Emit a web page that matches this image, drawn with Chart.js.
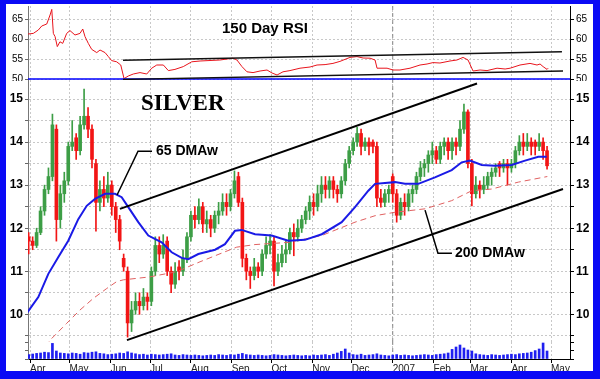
<!DOCTYPE html>
<html><head><meta charset="utf-8">
<script src="https://cdn.jsdelivr.net/npm/chart.js@4.4.0/dist/chart.umd.min.js"></script>
<style>
html,body{margin:0;padding:0;background:#fff;overflow:hidden;}
#frame{position:absolute;left:0;top:0;width:600px;height:379px;box-sizing:border-box;border-style:solid;border-color:#0a0af5;border-width:4px 7px 8px 6px;background:#fff;}
canvas{position:absolute;left:0;}
.lbl{position:absolute;white-space:nowrap;line-height:1;font-family:"Liberation Sans",Arial,sans-serif;font-weight:bold;color:#000;}
</style></head><body>
<div id="frame"></div>
<canvas id="rsiChart" width="600" height="81" style="top:0;width:600px;height:81px"></canvas>
<canvas id="priceChart" width="600" height="262" style="top:80px;width:600px;height:262px"></canvas>
<canvas id="volChart" width="600" height="37" style="top:342px;width:600px;height:37px"></canvas>
<div class="lbl" style="left:222px;top:19.6px;font-size:15px;">150 Day RSI</div>
<div class="lbl" style="left:141px;top:91.4px;font-size:23px;font-family:'Liberation Serif','Times New Roman',serif;">SILVER</div>
<div class="lbl" style="left:156px;top:143px;font-size:14px;">65 DMAw</div>
<div class="lbl" style="left:455px;top:245.4px;font-size:14px;">200 DMAw</div>
<script>
// ---- x axis: days since 1 Apr 2006 ----
const X_MIN = -1.52, X_MAX = 409.4;
const monthDays = [0,30,61,91,122,153,183,214,244,275,306,334,365,395];
const monthLabels = ['Apr','May','Jun','Jul','Aug','Sep','Oct','Nov','Dec','2007','Feb','Mar','Apr','May'];
const JAN_2007 = 275;

// ---- price bars (one every 3 days) ----
const barStartDay = -1, barStepDays = 3;
const open = [
11.8,11.7,11.6,11.9,12.4,12.9,13.2,14.3,12.2,12.8,
13.1,13.9,14.1,13.8,14.4,14.6,14.3,13.5,12.6,12.9,
12.7,13.0,12.5,12.2,11.3,11.0,9.8,10.1,10.3,10.2,
10.4,10.3,11.0,11.6,11.4,11.7,11.0,10.7,11.1,11.0,
11.3,11.8,12.3,12.2,12.5,12.1,12.2,12.0,12.3,12.4,
12.6,12.5,12.8,13.2,12.6,11.3,11.0,10.9,11.1,11.0,
11.4,11.6,11.7,11.0,11.2,11.4,11.5,11.9,11.8,12.0,
12.2,12.4,12.6,12.5,12.8,13.0,12.9,13.1,12.9,12.8,
13.1,13.5,13.8,14.0,14.2,13.9,14.0,14.0,13.9,12.7,
12.6,12.8,13.2,12.8,12.3,12.6,12.5,12.8,12.9,13.2,
13.4,13.5,13.7,13.8,13.6,13.9,14.0,13.8,14.0,13.9,
14.3,14.7,13.5,12.8,13.0,12.9,13.0,13.2,13.3,13.5,
13.4,13.5,13.4,13.5,13.8,14.0,13.9,14.0,14.0,13.9,
14.0,13.8];
const high = [
11.9,11.8,12.0,12.5,13.0,13.4,14.65,14.4,13.0,13.3,
14.0,14.5,14.2,14.6,15.23,14.8,14.4,13.6,13.1,13.2,
13.3,13.1,12.6,12.3,11.4,11.1,10.3,10.5,10.5,10.6,
10.5,11.1,11.8,11.8,11.85,11.8,11.1,11.2,11.25,11.5,
11.9,12.4,12.5,12.68,12.6,12.4,12.3,12.4,12.6,12.8,
12.8,12.9,13.33,13.3,12.7,11.4,11.1,11.3,11.2,11.5,
11.8,11.85,11.8,11.4,11.6,11.7,12.0,12.1,12.2,12.3,
12.5,12.75,12.8,13.0,13.2,13.2,13.2,13.2,13.0,13.2,
13.6,13.9,14.1,14.34,14.3,14.1,14.1,14.05,14.0,12.9,
12.9,13.0,13.26,12.9,12.7,12.8,12.9,13.0,13.3,13.55,
13.6,13.8,14.0,13.9,14.0,14.1,14.1,14.1,14.1,14.5,
14.88,14.75,13.6,13.2,13.1,13.2,13.3,13.4,13.5,13.55,
13.6,13.6,13.6,13.9,14.15,14.2,14.2,14.1,14.05,14.2,
14.1,13.9];
const low = [
11.4,11.5,11.55,11.85,12.3,12.8,13.1,11.7,12.0,12.6,
13.0,13.8,13.6,13.7,14.3,14.1,13.4,11.93,12.4,12.5,
12.6,12.3,11.9,11.5,11.0,9.47,9.6,10.0,10.0,10.1,
10.1,10.2,10.9,11.2,11.3,10.9,10.5,10.6,10.8,10.9,
11.2,11.7,12.0,12.1,11.9,11.9,11.8,11.9,12.1,12.3,
12.3,12.4,12.7,12.5,11.1,10.8,10.6,10.8,10.85,10.9,
11.3,11.4,10.66,10.9,11.1,11.2,11.4,11.36,11.7,11.9,
12.1,12.2,12.3,12.4,12.6,12.7,12.7,12.7,12.6,12.7,
13.0,13.4,13.7,13.9,13.7,13.8,13.7,13.75,12.5,12.49,
12.5,12.6,12.6,12.14,12.2,12.3,12.4,12.6,12.8,13.1,
13.2,13.3,13.5,13.5,13.5,13.7,13.6,13.6,13.7,13.8,
14.2,13.4,12.52,12.7,12.7,12.8,12.9,13.0,13.2,13.2,
13.3,13.0,13.3,13.4,13.7,13.7,13.8,13.7,13.7,13.8,
13.6,13.37];
const close = [
11.7,11.6,11.9,12.4,12.9,13.2,14.4,12.2,12.8,13.1,
13.9,14.0,13.8,14.4,14.6,14.3,13.6,12.6,12.9,12.7,
13.0,12.5,12.2,11.7,11.1,9.8,10.1,10.3,10.2,10.4,
10.3,11.0,11.6,11.4,11.6,11.0,10.7,11.0,11.0,11.3,
11.8,12.3,12.2,12.5,12.1,12.2,12.0,12.3,12.4,12.6,
12.5,12.8,13.1,12.6,11.3,11.0,10.9,11.1,11.0,11.4,
11.6,11.7,11.0,11.2,11.4,11.5,11.9,11.8,12.0,12.2,
12.4,12.6,12.5,12.8,13.0,12.9,13.1,12.9,12.8,13.1,
13.5,13.8,14.0,14.2,13.9,14.0,13.9,13.9,12.7,12.6,
12.8,12.9,12.8,12.3,12.6,12.5,12.8,12.9,13.2,13.4,
13.5,13.7,13.8,13.6,13.9,14.0,13.8,14.0,13.9,14.3,
14.7,13.5,12.8,13.0,12.9,13.0,13.2,13.3,13.4,13.4,
13.5,13.4,13.5,13.8,14.0,13.9,14.0,13.9,13.9,14.0,
13.8,13.45];
const volume = [
22000,25000,28000,30000,34000,32000,78000,40000,30000,28000,
26000,30000,28000,24000,32000,30000,34000,36000,28000,26000,
22000,24000,26000,30000,28000,36000,30000,26000,22000,24000,
20000,24000,22000,20000,22000,24000,26000,20000,18000,22000,
20000,18000,20000,18000,16000,18000,20000,18000,22000,20000,
18000,22000,20000,24000,28000,22000,20000,18000,20000,18000,
16000,18000,22000,20000,18000,16000,18000,20000,18000,16000,
18000,16000,20000,18000,20000,22000,18000,24000,30000,38000,
50000,30000,22000,20000,24000,18000,20000,22000,26000,20000,
18000,16000,20000,22000,18000,20000,18000,16000,18000,20000,
22000,20000,18000,22000,24000,26000,30000,48000,60000,70000,
55000,45000,40000,26000,22000,20000,18000,22000,20000,18000,
20000,22000,24000,22000,26000,28000,30000,34000,42000,50000,
80000,40000];

// ---- moving averages ----
const ma65Days = [-2.3,6.3,13.9,21.5,29,36.6,43,49.3,56.9,64.4,69.5,74.5,82.1,89.7,99.8,107.4,115,120,127.6,140.3,147.8,155.4,160.5,170.6,183.2,195.8,208.5,221.2,236.3,246.4,256.5,261.6,276.7,284.3,294.4,307,319.7,327.3,333.6,342.5,352.5,365.2,375.3,385.4,391.7];
const ma65Values = [10.03,10.4,10.94,11.33,11.71,12.21,12.52,12.68,12.8,12.8,12.72,12.49,12.14,11.83,11.67,11.44,11.31,11.28,11.4,11.5,11.63,11.94,11.96,11.86,11.83,11.71,11.73,11.86,12.14,12.49,12.87,13.03,13.07,13.03,13.03,13.18,13.35,13.53,13.57,13.47,13.45,13.47,13.57,13.66,13.66];
const ma200Days = [12,15.2,27.8,37.9,48,58.2,65.7,70.7,91,111.2,128.9,140.3,156.7,170.6,195.8,221.2,246.4,261.6,276.7,299.5,319.7,334.9,350,370.2,392.2];
const ma200Values = [9.25,9.40,9.79,10.1,10.37,10.6,10.76,10.8,10.87,10.99,11.22,11.36,11.56,11.62,11.67,11.83,12.14,12.29,12.37,12.45,12.64,12.87,12.91,13.07,13.2];

// ---- price channel and callouts ----
const upperChannelDays = [68.2, 338.9], upperChannelPrices = [12.45, 15.36];
const lowerChannelDays = [73.5, 404.1], lowerChannelPrices = [9.40, 12.91];
const callout65Days = [92.5, 81.9, 66.0], callout65Prices = [13.79, 13.79, 12.77];
const callout200Days = [319.9, 309.3, 299.5], callout200Prices = [11.42, 11.42, 12.42];

// ---- 150 day RSI ----
const rsiDays = [-1.5,2.5,6.3,8.9,12.7,15.2,16.5,17.7,19,20.7,22.7,24.8,27.8,30.3,34.1,37.9,40,41.7,44.2,46.8,50.6,53.1,56.9,59.4,61.9,65.7,68.8,71.3,74.5,78.3,83.4,88.5,92.3,96.1,101.1,104.9,109.9,116.2,122.6,128.9,144,153.9,156.9,160.7,164.5,169.1,174.4,179.7,183.5,187.3,191.8,197.1,204.7,212.3,217.6,223.7,229.7,235,242.6,247.9,252.5,257.8,261.6,263.1,270.7,275.2,280.5,288.1,295.7,301,305.5,310.8,318.4,323.7,328.3,332.1,335.9,341.2,346.5,354.1,360.2,364,371.5,379.1,384.4,386.7,389,392,392.8];
const rsiValues = [61.25,61.4,62.25,63.25,63.75,66,67.4,61.4,60.6,58.1,59.3,58.9,61.4,62.1,61,61.4,62.5,60.6,58.9,57.4,56.6,57.25,56.6,55.6,54.6,54.3,53.5,50.1,50.75,51.25,51.6,51.25,52.7,53.5,53.5,52.1,52.4,53.1,54.3,54.5,54.75,55.2,54.75,53.1,51.8,51.6,52,52.25,51.5,51,51.8,52.1,52.7,53,53.5,53.6,53.9,54.4,55.4,55.6,55.25,55.2,54.75,52.7,52.7,52.25,52.25,52.7,53.5,53.75,54.1,54,54.5,54.75,55.4,54.75,52,52.25,52.1,52.7,52.5,52.7,53.5,53.9,53.5,53.75,53.1,52.4,52.7];
const rsiUpperDays = [70.5, 403.3], rsiUpperValues = [54.7, 56.8];
const rsiLowerDays = [70.5, 404.1], rsiLowerValues = [49.9, 52.0];
const rsiBaseLevel = 50;

// ---- axis ranges ----
const RSI_MIN = 49.75, RSI_MAX = 68.25;
const PRICE_MIN = 9.357, PRICE_MAX = 15.442;
const VOL_MIN = 0, VOL_MAX = 85000;

const FONT = '"Liberation Sans", Arial, sans-serif';
const pts = (xs, ys) => xs.map((x, i) => ({x, y: ys[i]}));
const barDays = close.map((_, i) => barStartDay + i * barStepDays);
const UP = '#3d9e46', DOWN = '#f21515';
const barColor = ctx => (close[ctx.dataIndex] >= open[ctx.dataIndex] ? UP : DOWN);

function xAxis(withLabels) {
  return {
    type: 'linear', min: X_MIN, max: X_MAX, offset: false,
    afterBuildTicks: s => { s.ticks = monthDays.map(v => ({value: v})); },
    grid: { display: true, offset: false, color: '#c8c8c8', lineWidth: 1, drawTicks: withLabels, tickLength: 4, tickColor: '#000', tickBorderDash: [] },
    border: { display: withLabels, color: '#000', dash: [2, 2] },
    ticks: { display: withLabels, autoSkip: false, maxRotation: 0, minRotation: 0, align: 'start', padding: 0, color: '#222',
             font: {family: FONT, size: 10}, callback: (v, i) => monthLabels[i] },
    afterFit: s => { s.height = withLabels ? 12 : 0; s.paddingLeft = 0; s.paddingRight = 0; }
  };
}
function yAxis(pos, min, max, step, fmt, fontSize, weight, width, showGrid) {
  return {
    type: 'linear', position: pos, min, max,
    grid: { display: true, drawOnChartArea: showGrid, color: '#c8c8c8', drawTicks: true, tickLength: pos === 'left' ? 3 : 4, tickColor: pos === 'left' ? '#666' : '#000', tickBorderDash: [] },
    border: { display: true, color: pos === 'left' ? '#777' : '#000', dash: [2, 2] },
    ticks: { stepSize: step, includeBounds: false, autoSkip: false, padding: 2, color: '#000', font: {family: FONT, size: fontSize, weight}, callback: fmt },
    afterFit: s => { s.width = width; s.paddingTop = 0; s.paddingBottom = 0; }
  };
}
const base = {
  responsive: false, animation: false, devicePixelRatio: 1, events: [],
  plugins: { legend: {display: false}, tooltip: {enabled: false} }
};
const lineDs = (data, color, width, extra) => Object.assign({ type: 'line', data, borderColor: color, borderWidth: width, pointRadius: 0, fill: false, tension: 0 }, extra || {});

const rsiFmt = v => String(v);
const priceFmt = v => (Math.abs(v - Math.round(v)) < 1e-6 ? String(Math.round(v)) : '');
const volFmt = v => (v === 50000 ? '50000' : '');

// RSI panel
new Chart(document.getElementById('rsiChart'), {
  type: 'line',
  data: { datasets: [
    lineDs(pts(rsiDays, rsiValues), '#e8141c', 1, {order: 3}),
    lineDs(pts(rsiUpperDays, rsiUpperValues), '#111', 1.5, {order: 1}),
    lineDs(pts(rsiLowerDays, rsiLowerValues), '#111', 1.5, {order: 1}),
    lineDs(pts([X_MIN, X_MAX], [rsiBaseLevel, rsiBaseLevel]), '#0000ff', 1.5, {order: 2}),
    lineDs(pts([JAN_2007, JAN_2007], [RSI_MIN, RSI_MAX]), '#8a8a8a', 1, {order: 5, borderDash: [4, 3]})
  ]},
  options: Object.assign({}, base, {
    layout: { padding: {left: 6, right: 7, top: 6, bottom: 1}, autoPadding: false },
    scales: {
      x: xAxis(false),
      y: yAxis('left', RSI_MIN, RSI_MAX, 5, rsiFmt, 10, 'normal', 22, true),
      yR: yAxis('right', RSI_MIN, RSI_MAX, 5, rsiFmt, 10, 'normal', 23, false)
    }
  })
});

// Price panel
new Chart(document.getElementById('priceChart'), {
  type: 'line',
  data: { datasets: [
    { type: 'bar', data: barDays.map((d, i) => ({x: d, y: [low[i], high[i]]})), backgroundColor: barColor, barThickness: 1, grouped: false, borderWidth: 0, order: 10 },
    { type: 'bar', data: barDays.map((d, i) => ({x: d, y: [open[i], close[i]]})), backgroundColor: barColor, barThickness: 3, grouped: false, borderWidth: 0, order: 9 },
    lineDs(pts(ma200Days, ma200Values), '#e06060', 1, {order: 6, borderDash: [6, 4]}),
    lineDs(pts(ma65Days, ma65Values), '#1a1ae6', 2, {order: 5}),
    lineDs(pts(upperChannelDays, upperChannelPrices), '#000', 2, {order: 1}),
    lineDs(pts(lowerChannelDays, lowerChannelPrices), '#000', 2, {order: 1}),
    lineDs(pts(callout65Days, callout65Prices), '#000', 1.5, {order: 1}),
    lineDs(pts(callout200Days, callout200Prices), '#000', 1.5, {order: 1}),
    lineDs(pts([JAN_2007, JAN_2007], [PRICE_MIN, PRICE_MAX]), '#8a8a8a', 1, {order: 12, borderDash: [4, 3]})
  ]},
  options: Object.assign({}, base, {
    layout: { padding: {left: 6, right: 7, top: 0, bottom: 0}, autoPadding: false },
    scales: {
      x: xAxis(false),
      y: yAxis('left', PRICE_MIN, PRICE_MAX, 0.5, priceFmt, 12, 'bold', 22, true),
      yR: yAxis('right', PRICE_MIN, PRICE_MAX, 0.5, priceFmt, 12, 'bold', 23, false)
    }
  })
});

// Volume panel
new Chart(document.getElementById('volChart'), {
  type: 'line',
  data: { datasets: [
    { type: 'bar', data: barDays.map((d, i) => ({x: d, y: volume[i]})), backgroundColor: '#1f1ff0', barThickness: 2, grouped: false, borderWidth: 0, order: 5 },
    lineDs(pts([JAN_2007, JAN_2007], [VOL_MIN, VOL_MAX]), '#8a8a8a', 1, {order: 8, borderDash: [4, 3]})
  ]},
  options: Object.assign({}, base, {
    layout: { padding: {left: 6, right: 7, top: 0, bottom: 8}, autoPadding: false },
    scales: {
      x: xAxis(true),
      y: yAxis('left', VOL_MIN, VOL_MAX, 50000, volFmt, 6, 'normal', 22, false),
      yR: yAxis('right', VOL_MIN, VOL_MAX, 50000, volFmt, 6, 'normal', 23, false)
    }
  })
});
</script>
</body></html>
